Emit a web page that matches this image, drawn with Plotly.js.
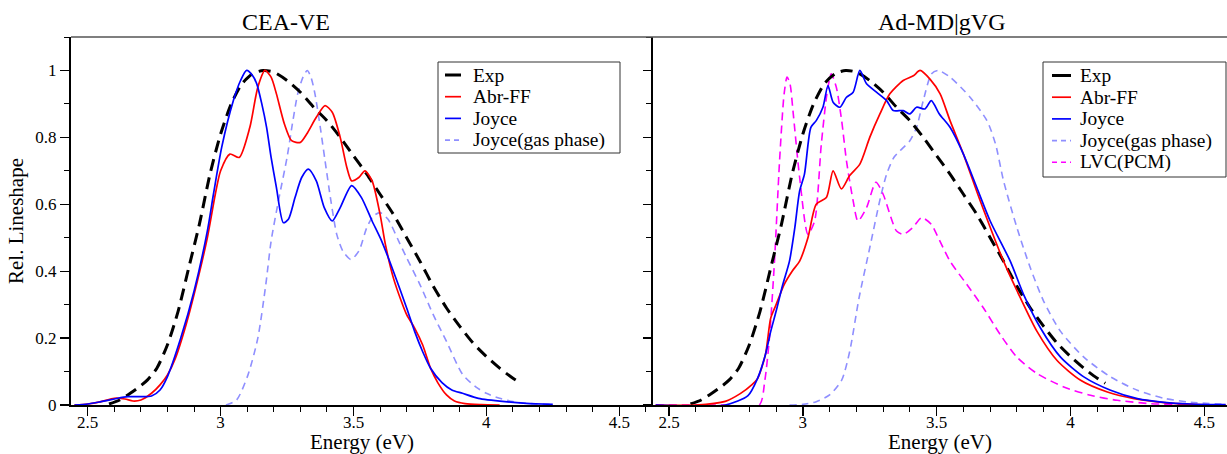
<!DOCTYPE html>
<html>
<head>
<meta charset="utf-8">
<script src="https://cdn.plot.ly/plotly-3.0.1.min.js"></script>
<style>html,body{margin:0;padding:0;background:#fff;}#chart{width:1227px;height:454px;}</style>
</head>
<body>
<div id="chart"></div>
<script>
// ---------- DATA ----------
// Experimental lineshape (same in both panels)
const expE = [2.58,2.62,2.66,2.70,2.725,2.76,2.80,2.84,2.88,2.92,2.96,3.00,3.04,3.08,3.12,3.16,3.20,3.25,3.30,3.35,3.40,3.45,3.50,3.55,3.60,3.65,3.70,3.75,3.80,3.85,3.90,3.95,4.00,4.05,4.10,4.13];
const expY = [0.003,0.015,0.035,0.058,0.075,0.11,0.18,0.28,0.41,0.54,0.69,0.81,0.90,0.96,0.99,1.0,0.995,0.97,0.935,0.89,0.85,0.80,0.745,0.69,0.63,0.57,0.50,0.43,0.355,0.29,0.235,0.185,0.145,0.11,0.08,0.065];

// Panel 1: CEA-VE
const ceaAbrE = [2.45,2.50,2.55,2.60,2.64,2.67,2.70,2.74,2.772,2.80,2.83,2.87,2.90,2.95,2.98,3.00,3.035,3.07,3.11,3.14,3.167,3.19,3.21,3.24,3.267,3.30,3.324,3.36,3.393,3.42,3.45,3.475,3.493,3.52,3.543,3.57,3.60,3.62,3.65,3.68,3.70,3.73,3.76,3.79,3.817,3.85,3.88,3.92,3.98,4.05];
const ceaAbrY = [0.0,0.003,0.01,0.02,0.018,0.012,0.015,0.035,0.06,0.09,0.14,0.24,0.33,0.50,0.63,0.70,0.75,0.74,0.83,0.95,1.0,0.98,0.93,0.84,0.79,0.785,0.81,0.86,0.895,0.875,0.80,0.71,0.67,0.68,0.70,0.67,0.57,0.48,0.38,0.31,0.27,0.23,0.18,0.11,0.067,0.03,0.012,0.004,0.001,0.0];
const ceaJoyE = [2.45,2.50,2.55,2.60,2.65,2.70,2.74,2.772,2.80,2.85,2.90,2.95,2.973,3.004,3.048,3.075,3.098,3.12,3.136,3.155,3.173,3.19,3.21,3.236,3.255,3.28,3.305,3.33,3.36,3.39,3.42,3.45,3.493,3.53,3.57,3.606,3.65,3.70,3.73,3.76,3.79,3.833,3.87,3.91,3.97,4.07,4.15,4.25];
const ceaJoyY = [0.0,0.003,0.01,0.018,0.025,0.025,0.027,0.045,0.085,0.20,0.34,0.52,0.63,0.77,0.91,0.97,1.0,0.985,0.96,0.90,0.83,0.74,0.65,0.545,0.555,0.62,0.68,0.705,0.67,0.59,0.55,0.59,0.656,0.62,0.55,0.49,0.40,0.29,0.22,0.16,0.11,0.067,0.045,0.035,0.02,0.01,0.005,0.002];
const ceaGasE = [3.02,3.06,3.103,3.14,3.17,3.19,3.22,3.25,3.27,3.29,3.31,3.326,3.34,3.355,3.375,3.393,3.415,3.437,3.46,3.49,3.52,3.55,3.575,3.60,3.63,3.67,3.70,3.75,3.80,3.85,3.91,3.96,4.00,4.05,4.10,4.15,4.25];
const ceaGasY = [0.0,0.015,0.09,0.20,0.36,0.49,0.62,0.74,0.84,0.93,0.98,1.0,0.98,0.93,0.83,0.73,0.61,0.51,0.46,0.435,0.46,0.53,0.565,0.575,0.555,0.49,0.44,0.36,0.27,0.19,0.092,0.054,0.035,0.02,0.01,0.005,0.002];

// Panel 2: Ad-MD|gVG
const adAbrE = [2.45,2.60,2.71,2.766,2.81,2.83,2.86,2.88,2.90,2.93,2.96,2.988,3.019,3.05,3.088,3.113,3.144,3.175,3.213,3.25,3.288,3.325,3.375,3.413,3.438,3.475,3.513,3.55,3.60,3.663,3.75,3.813,3.875,3.95,4.038,4.138,4.238,4.35,4.45,4.58];
const adAbrY = [0.0,0.0,0.011,0.034,0.061,0.078,0.15,0.26,0.30,0.36,0.40,0.43,0.50,0.60,0.62,0.70,0.646,0.686,0.72,0.80,0.87,0.93,0.97,0.984,1.0,0.974,0.93,0.85,0.75,0.61,0.43,0.32,0.22,0.133,0.074,0.039,0.019,0.007,0.002,0.0];
const adJoyE = [2.45,2.71,2.795,2.83,2.86,2.88,2.90,2.925,2.95,2.97,2.988,3.006,3.03,3.05,3.075,3.094,3.113,3.138,3.163,3.188,3.213,3.238,3.275,3.313,3.338,3.375,3.40,3.425,3.456,3.48,3.51,3.55,3.60,3.65,3.70,3.775,3.825,3.888,3.963,4.05,4.15,4.25,4.35,4.45,4.58];
const adJoyY = [0.0,0.0,0.028,0.078,0.15,0.22,0.28,0.36,0.43,0.53,0.64,0.69,0.83,0.85,0.89,0.955,0.905,0.89,0.92,0.935,1.0,0.96,0.935,0.91,0.88,0.88,0.87,0.89,0.885,0.91,0.87,0.83,0.75,0.65,0.55,0.43,0.33,0.23,0.143,0.084,0.044,0.019,0.008,0.003,0.001];
const adGasE = [2.95,3.00,3.05,3.10,3.145,3.175,3.21,3.25,3.29,3.313,3.34,3.363,3.40,3.425,3.45,3.481,3.506,3.55,3.625,3.688,3.72,3.75,3.80,3.85,3.90,3.963,4.05,4.15,4.25,4.35,4.45,4.58];
const adGasY = [0.0,0.002,0.01,0.03,0.074,0.16,0.32,0.47,0.62,0.69,0.74,0.76,0.79,0.83,0.91,0.99,1.0,0.98,0.92,0.85,0.78,0.67,0.53,0.41,0.31,0.22,0.143,0.084,0.044,0.02,0.008,0.002];
const adLvcE = [2.45,2.70,2.837,2.858,2.875,2.894,2.913,2.93,2.941,2.952,2.963,2.988,3.019,3.044,3.069,3.09,3.106,3.125,3.145,3.163,3.188,3.206,3.238,3.273,3.30,3.35,3.375,3.41,3.444,3.48,3.50,3.55,3.613,3.675,3.738,3.80,3.875,3.975,4.075,4.175,4.30,4.45,4.58];
const adLvcY = [0.0,0.0,0.0,0.074,0.20,0.43,0.73,0.93,0.98,0.96,0.88,0.68,0.51,0.55,0.78,0.93,0.99,0.95,0.85,0.73,0.61,0.55,0.59,0.666,0.63,0.52,0.51,0.53,0.56,0.54,0.51,0.43,0.36,0.29,0.21,0.143,0.094,0.054,0.029,0.014,0.004,0.001,0.0];

const legendNames1 = ["Exp","Abr-FF","Joyce","Joyce(gas phase)"];
const legendNames2 = ["Exp","Abr-FF","Joyce","Joyce(gas phase)","LVC(PCM)"];
const panelTitles = ["CEA-VE","Ad-MD|gVG"];
const xTickVals = [2.5,3,3.5,4,4.5];
const yTickVals = [0,0.2,0.4,0.6,0.8,1];

// ---------- STYLES ----------
const FONT = '"Liberation Serif", "Times New Roman", serif';
const C = {exp:"#000000", abr:"#ff0000", joy:"#0000ff", gas:"#8f8fff", lvc:"#ff00ff"};
const ST = {
  exp:{color:C.exp,width:3,dash:"12px,7px"},
  abr:{color:C.abr,width:1.7},
  joy:{color:C.joy,width:1.7},
  gas:{color:C.gas,width:1.6,dash:"7px,5px"},
  lvc:{color:C.lvc,width:1.6,dash:"8px,5px"}
};
function tr(x,y,st,name,xa,ya){
  return {x:x,y:y,type:"scatter",mode:"lines",name:name,xaxis:xa,yaxis:ya,showlegend:false,
          line:Object.assign({shape:"spline",smoothing:0.7},st),hoverinfo:"x+y"};
}
const data = [
  tr(ceaGasE,ceaGasY,ST.gas,"Joyce(gas phase)","x","y"),
  tr(expE,expY,ST.exp,"Exp","x","y"),
  tr(ceaAbrE,ceaAbrY,ST.abr,"Abr-FF","x","y"),
  tr(ceaJoyE,ceaJoyY,ST.joy,"Joyce","x","y"),
  tr(adGasE,adGasY,ST.gas,"Joyce(gas phase)","x2","y2"),
  tr(adLvcE,adLvcY,ST.lvc,"LVC(PCM)","x2","y2"),
  tr(expE,expY,ST.exp,"Exp","x2","y2"),
  tr(adAbrE,adAbrY,ST.abr,"Abr-FF","x2","y2"),
  tr(adJoyE,adJoyY,ST.joy,"Joyce","x2","y2")
];

// ---------- LAYOUT ----------
const W=1227,H=454,ML=71,MR=0,MT=37,MB=49;
const PW=W-ML-MR, PH=H-MT-MB;
const px=(p)=>(p-ML)/PW, py=(p)=>(H-MB-p)/PH;
const split = px(653);

function xax(dom,range){
  return {domain:dom,range:range,showline:true,linecolor:"#000",linewidth:1.5,
    ticks:"outside",ticklen:9,tickwidth:1.3,tickcolor:"#000",tickvals:xTickVals,
    ticktext:xTickVals.map(String),ticklabelstandoff:-8,
    minor:{dtick:0.1,tick0:2.5,ticks:"outside",ticklen:5,tickwidth:1,tickcolor:"#000"},
    showgrid:false,zeroline:false,
    tickfont:{family:FONT,size:17,color:"#000"},
    title:{text:"Energy (eV)",font:{family:FONT,size:21,color:"#000"},standoff:0}};
}
const layout = {
  width:W,height:H,margin:{l:ML,r:MR,t:MT,b:MB,pad:0},
  paper_bgcolor:"#fff",plot_bgcolor:"#fff",showlegend:false,
  font:{family:FONT,color:"#000"},
  xaxis:xax([0,split],[2.437,4.627]),
  xaxis2:Object.assign(xax([split,1],[2.44,4.585]),{anchor:"y2"}),
  yaxis:{domain:[0,1],range:[0,1.1],anchor:"x",showline:true,linecolor:"#000",linewidth:2,
    ticks:"outside",ticklen:9,tickwidth:1.3,tickcolor:"#000",tickvals:yTickVals,
    ticktext:yTickVals.map(String),
    minor:{dtick:0.1,tick0:0,ticks:"outside",ticklen:5,tickwidth:1,tickcolor:"#000"},
    showgrid:false,zeroline:false,tickfont:{family:FONT,size:17,color:"#000"},
    title:{text:"Rel. Lineshape",font:{family:FONT,size:21,color:"#000"},standoff:6}},
  yaxis2:{domain:[0,1],range:[0,1.1],anchor:"x2",showline:true,linecolor:"#000",linewidth:2,
    ticks:"outside",ticklen:8,tickwidth:1.3,tickcolor:"#000",tickvals:yTickVals,showticklabels:false,
    minor:{dtick:0.1,tick0:0,ticks:"outside",ticklen:5,tickwidth:1,tickcolor:"#000"},
    showgrid:false,zeroline:false},
  shapes:[{type:"line",xref:"paper",yref:"paper",x0:0,x1:1,y0:1,y1:1,line:{color:"#555",width:1.5}}],
  annotations:[
    {text:panelTitles[0],xref:"paper",yref:"paper",x:px(286),y:py(22),xanchor:"center",yanchor:"middle",showarrow:false,font:{family:FONT,size:24,color:"#000"}},
    {text:panelTitles[1],xref:"paper",yref:"paper",x:px(941),y:py(22),xanchor:"center",yanchor:"middle",showarrow:false,font:{family:FONT,size:24,color:"#000"}}
  ]
};

// ---------- manual legends (tight spacing as in reference) ----------
function addLegend(box,names,styles,lineX0,lineX1,textX,y0,step){
  layout.shapes.push({type:"rect",xref:"paper",yref:"paper",x0:px(box[0]),x1:px(box[1]),y0:py(box[2]),y1:py(box[3]),
    line:{color:"#333",width:1},fillcolor:"#fff",layer:"above"});
  names.forEach((n,i)=>{
    const yy=py(y0+i*step), st=styles[i];
    const dash = st===ST.exp ? "solid" : (st.dash ? "5px,4px" : "solid");
    layout.shapes.push({type:"line",xref:"paper",yref:"paper",x0:px(lineX0),x1:px(lineX1),y0:yy,y1:yy,layer:"above",
      line:{color:st.color,width:st.width,dash:dash}});
    layout.annotations.push({text:n,xref:"paper",yref:"paper",x:px(textX),y:yy,xanchor:"left",yanchor:"middle",
      borderpad:0,showarrow:false,font:{family:FONT,size:19.4,color:"#000"}});
  });
}
addLegend([438,620,62,153],legendNames1,[ST.exp,ST.abr,ST.joy,ST.gas],445,461,472,75,21.7);
addLegend([1043,1226,62,177],legendNames2,[ST.exp,ST.abr,ST.joy,ST.gas,ST.lvc],1052,1071,1079,75.5,21.7);

Plotly.newPlot("chart",data,layout,{staticPlot:true,displayModeBar:false});
</script>
</body>
</html>
